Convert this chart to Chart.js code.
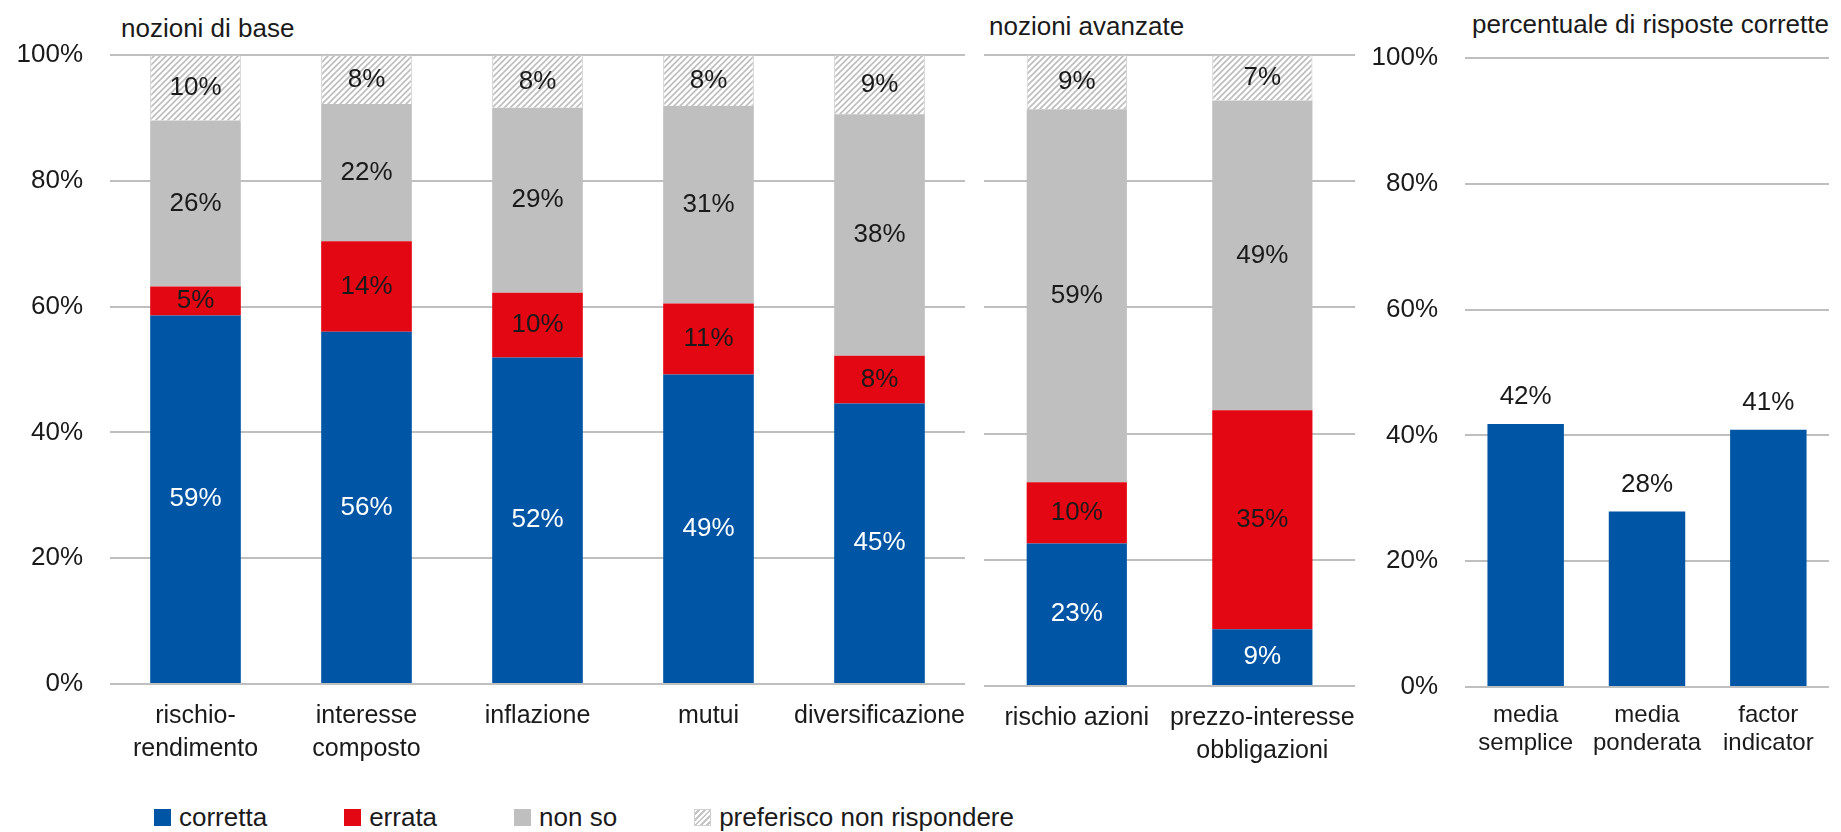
<!DOCTYPE html>
<html lang="it">
<head>
<meta charset="utf-8">
<title>Conoscenze finanziarie</title>
<script src="https://cdn.jsdelivr.net/npm/chart.js@4.4.1/dist/chart.umd.min.js"></script>
<style>
  html, body { margin: 0; padding: 0; background: #fff; }
  body {
    width: 1841px; height: 832px; position: relative; overflow: hidden;
    font-family: 'Liberation Sans', Arial, sans-serif; color: #1a1a1a;
  }
  canvas { position: absolute; top: 0; }
  .title { position: absolute; font-size: 26px; line-height: 26px; white-space: nowrap; }
  #legend { position: absolute; left: 154px; top: 805px; display: flex; align-items: center; font-size: 26px; line-height: 24px; }
  .item { display: flex; align-items: center; margin-right: 77px; }
  .swatch { width: 17px; height: 17px; margin-right: 8px; box-sizing: border-box; }
</style>
</head>
<body>

<div class="title" style="left:121px; top:15px;">nozioni di base</div>
<div class="title" style="left:989px; top:13px;">nozioni avanzate</div>
<div class="title" style="left:1472px; top:11px;">percentuale di risposte corrette</div>

<canvas id="chartBase" width="975" height="790" style="left:0px;"></canvas>
<canvas id="chartAdv" width="390" height="790" style="left:975px;"></canvas>
<canvas id="chartSum" width="471" height="790" style="left:1370px;"></canvas>

<div id="legend"></div>

<script>
// ---- dati ----
const seriesNames = ['corretta', 'errata', 'non so', 'preferisco non rispondere'];

const baseCategories = [['rischio-', 'rendimento'], ['interesse', 'composto'], 'inflazione', 'mutui', 'diversificazione'];
const baseCorretta   = [58.6, 56.0, 51.9, 49.2, 44.6];
const baseErrata     = [4.6, 14.4, 10.3, 11.3, 7.6];
const baseNonSo      = [26.4, 21.8, 29.4, 31.4, 38.4];
const basePreferisco = [10.4, 7.8, 8.4, 8.1, 9.4];

const advCategories = ['rischio azioni', ['prezzo-interesse', 'obbligazioni']];
const advCorretta   = [22.6, 9.0];
const advErrata     = [9.7, 34.7];
const advNonSo      = [59.1, 49.1];
const advPreferisco = [8.6, 7.2];

const sumCategories = [['media', 'semplice'], ['media', 'ponderata'], ['factor', 'indicator']];
const sumValues     = [41.8, 27.9, 40.9];

const yTicks = [0, 20, 40, 60, 80, 100];

// ---- stile ----
const BLUE = '#0055a4';
const RED = '#e30613';
const GREY = '#bfbfbf';
const TEXT = '#1a1a1a';

Chart.defaults.font.family = "'Liberation Sans', Arial, sans-serif";
Chart.defaults.font.size = 26;
Chart.defaults.color = TEXT;

// tratteggio per "preferisco non rispondere"
function makeHatch() {
    const c = document.createElement('canvas');
    c.width = 6; c.height = 6;
    const g = c.getContext('2d');
    g.fillStyle = '#fff';
    g.fillRect(0, 0, 6, 6);
    g.strokeStyle = '#bdbdbd';
    g.lineWidth = 1.6;
    g.beginPath();
    g.moveTo(-1, 7); g.lineTo(7, -1);
    g.moveTo(-1, 1); g.lineTo(1, -1);
    g.moveTo(5, 7); g.lineTo(7, 5);
    g.stroke();
    return g.createPattern(c, 'repeat');
}
const hatch = makeHatch();

// etichette dei valori sulle barre
const valueLabels = {
    id: 'valueLabels',
    afterDatasetsDraw(chart, args, opts) {
        const ctx = chart.ctx;
        ctx.save();
        ctx.font = "26px 'Liberation Sans', Arial, sans-serif";
        ctx.textAlign = 'center';
        ctx.textBaseline = 'middle';
        chart.data.datasets.forEach((ds, i) => {
            const meta = chart.getDatasetMeta(i);
            meta.data.forEach((bar, j) => {
                const txt = Math.round(ds.data[j]) + '%';
                ctx.fillStyle = ds.labelColor || TEXT;
                if (opts.above) {
                    ctx.fillText(txt, bar.x, bar.y - opts.above);
                } else {
                    ctx.fillText(txt, bar.x, (bar.y + bar.base) / 2);
                }
            });
        });
        ctx.restore();
    }
};

function stackedSets(corretta, errata, nonSo, preferisco) {
    return [
        { label: seriesNames[0], data: corretta, backgroundColor: BLUE, labelColor: '#fff' },
        { label: seriesNames[1], data: errata, backgroundColor: RED, labelColor: TEXT },
        { label: seriesNames[2], data: nonSo, backgroundColor: GREY, labelColor: TEXT },
        { label: seriesNames[3], data: preferisco, backgroundColor: hatch, borderColor: '#c8c8c8', borderWidth: 1, labelColor: TEXT }
    ];
}

function makeOptions(cfg) {
    return {
        responsive: false,
        animation: false,
        layout: { padding: { top: cfg.top, right: cfg.right, left: 0, bottom: 0 } },
        plugins: {
            legend: { display: false },
            tooltip: { enabled: false },
            valueLabels: { above: cfg.above || 0 }
        },
        datasets: { bar: { categoryPercentage: 1, barPercentage: cfg.barPct } },
        scales: {
            x: {
                stacked: cfg.stacked,
                grid: { display: false },
                border: { display: false },
                ticks: {
                    autoSkip: false, maxRotation: 0, padding: cfg.xPad,
                    font: { size: cfg.xFont, lineHeight: cfg.xLine }
                },
                afterFit: s => { s.height = 790 - cfg.bottom; }
            },
            y: {
                stacked: cfg.stacked,
                min: 0, max: 100,
                afterBuildTicks: s => { s.ticks = yTicks.map(v => ({ value: v })); },
                ticks: {
                    display: cfg.showY,
                    padding: 27,
                    callback: v => v + '%'
                },
                grid: { color: GREY, lineWidth: 2, drawTicks: false },
                border: { display: false },
                afterFit: s => { s.width = cfg.left; }
            }
        }
    };
}

new Chart(document.getElementById('chartBase'), {
    type: 'bar',
    data: { labels: baseCategories, datasets: stackedSets(baseCorretta, baseErrata, baseNonSo, basePreferisco) },
    options: makeOptions({ top: 55, bottom: 684, left: 110, right: 10, barPct: 0.53, stacked: true, showY: true, xPad: 8, xFont: 25, xLine: 1.32 }),
    plugins: [valueLabels]
});

new Chart(document.getElementById('chartAdv'), {
    type: 'bar',
    data: { labels: advCategories, datasets: stackedSets(advCorretta, advErrata, advNonSo, advPreferisco) },
    options: makeOptions({ top: 55, bottom: 686, left: 9, right: 9, barPct: 0.54, stacked: true, showY: false, xPad: 8, xFont: 25, xLine: 1.32 }),
    plugins: [valueLabels]
});

new Chart(document.getElementById('chartSum'), {
    type: 'bar',
    data: {
        labels: sumCategories,
        datasets: [{ label: seriesNames[0], data: sumValues, backgroundColor: BLUE, labelColor: TEXT }]
    },
    options: makeOptions({ top: 58, bottom: 687, left: 95, right: 12, barPct: 0.63, stacked: false, showY: true, above: 27, xPad: 6, xFont: 24, xLine: 1.17 }),
    plugins: [valueLabels]
});

// legenda
const legend = document.getElementById('legend');
const swatches = [BLUE, RED, GREY, 'hatch'];
seriesNames.forEach((name, i) => {
    const item = document.createElement('div');
    item.className = 'item';
    const sw = document.createElement('span');
    sw.className = 'swatch';
    if (swatches[i] === 'hatch') {
        sw.style.background = 'repeating-linear-gradient(135deg, #fff 0 2px, #c4c4c4 2px 4px)';
        sw.style.border = '1px solid #d0d0d0';
    } else {
        sw.style.background = swatches[i];
    }
    const txt = document.createElement('span');
    txt.textContent = name;
    item.appendChild(sw);
    item.appendChild(txt);
    legend.appendChild(item);
});
</script>
</body>
</html>
